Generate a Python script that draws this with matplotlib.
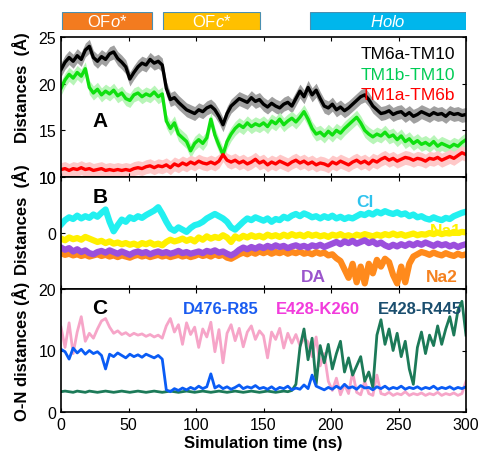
import numpy as np
import matplotlib.pyplot as plt

plt.rcParams["font.family"] = "Liberation Sans"
plt.rcParams["mathtext.fontset"] = "custom"
plt.rcParams["mathtext.rm"] = "Liberation Sans"
plt.rcParams["mathtext.it"] = "Liberation Sans:italic"

# phases shown in the bar strip on top (ns)
phaseNames = ["OF$\\it{o}$*", "OF$\\it{c}$*", "$\\it{Holo}$"]
phaseStart = [0, 75, 184]
phaseEnd = [67, 147, 300]
phaseColors = ["#F37B1F", "#FFC000", "#00B6EC"]

# panel A: helix distances (Å), one value every 3 ns from 0 to 300
tm6aTm10 = [21.5, 22.3, 22.8, 22.4, 23.0, 22.6, 23.6, 24.0, 22.8, 22.4, 22.9, 22.6, 23.2, 23.4, 22.7,
            22.3, 21.8, 20.5, 21.2, 21.8, 22.2, 22.0, 22.6, 22.2, 22.4, 22.0, 19.5, 18.3, 18.5, 18.0,
            17.6, 17.2, 17.0, 16.8, 17.2, 17.0, 17.4, 17.6, 17.2, 16.5, 15.6, 16.8, 17.6, 18.0, 18.4,
            18.2, 18.0, 18.5, 18.1, 18.3, 17.8, 17.5, 17.9, 17.6, 17.4, 17.8, 18.0, 17.6, 18.4, 19.2,
            18.6, 19.6, 18.8, 19.3, 18.4, 17.6, 17.4, 17.8, 17.2, 17.5, 17.1, 17.4, 17.8, 18.2, 18.6,
            18.8, 18.3, 17.6, 17.2, 16.8, 16.9, 17.1, 16.7, 16.9, 17.0, 16.6, 16.9, 16.5, 16.7, 17.0,
            16.8, 16.6, 16.9, 16.7, 16.8, 16.5, 16.9, 16.7, 16.8, 16.6, 16.7]
tm1bTm10 = [19.5, 20.4, 21.0, 20.6, 21.2, 20.8, 21.6, 19.6, 19.0, 19.4, 18.8, 19.2, 18.9, 19.3, 18.7,
            19.0, 18.4, 18.2, 18.8, 19.0, 18.6, 18.9, 18.7, 19.1, 18.6, 18.9, 16.0, 15.2, 15.8, 14.6,
            14.2, 13.8, 12.8, 13.6, 14.0, 13.6, 14.2, 16.2, 14.5, 13.4, 12.4, 13.8, 14.6, 15.2, 15.6,
            15.3, 15.8, 15.4, 15.7, 15.5, 15.8, 15.4, 16.0, 15.7, 16.2, 15.6, 16.0, 16.3, 15.9, 16.4,
            17.0, 16.2, 15.2, 14.6, 14.8, 14.4, 14.9, 14.5, 15.0, 14.7, 15.2, 15.6, 16.0, 16.4, 15.8,
            15.0, 14.6, 14.3, 14.6, 14.4, 14.8, 14.3, 14.5, 14.0, 14.4, 13.8, 14.1, 13.6, 13.9, 13.5,
            13.7, 13.4, 13.8, 13.3, 13.6, 13.4, 13.2, 13.5, 13.3, 13.7, 14.0]
tm1aTm6b = [10.8, 10.9, 10.7, 10.9, 10.8, 11.0, 10.8, 10.9, 10.7, 10.8, 10.9, 10.7, 10.8, 10.7, 10.8,
            10.7, 10.8, 10.7, 10.9, 11.0, 10.9, 11.1, 11.2, 11.0, 11.2, 11.1, 11.3, 11.0, 11.4, 11.2,
            11.5, 11.3, 11.6, 11.4, 11.7, 11.5, 11.4, 11.6, 11.4, 11.7, 12.4, 11.8, 11.6, 11.8, 11.5,
            11.7, 11.4, 11.6, 11.9, 11.5, 11.7, 11.3, 11.6, 11.4, 11.7, 11.5, 11.3, 11.6, 11.8, 11.5,
            11.7, 11.4, 11.6, 11.3, 11.5, 11.4, 11.2, 11.6, 11.4, 11.7, 11.5, 11.3, 11.6, 11.8, 11.5,
            11.7, 11.4, 11.8, 11.6, 11.9, 12.1, 11.8, 12.0, 11.7, 11.9, 12.1, 12.0, 11.8, 12.0, 11.9,
            11.7, 12.0, 11.9, 12.1, 11.8, 12.0, 12.2, 12.0, 12.3, 12.6, 12.4]

# panel B: ion / substrate positions (Å)
cl = [1.5, 2.3, 2.8, 2.5, 3.1, 2.6, 3.0, 2.7, 3.3, 2.9, 3.6, 4.2, 2.0, 0.3, 1.4,
      2.4, 2.0, 2.8, 2.5, 3.0, 2.7, 3.2, 3.6, 4.0, 4.6, 3.4, 2.0, 0.8, 0.4, 1.0,
      0.6, 0.2, 0.9, 1.4, 1.6, 2.0, 2.6, 3.0, 3.4, 3.0, 2.6, 2.0, 1.0, 0.6, 1.3,
      2.0, 2.6, 2.3, 2.8, 2.5, 2.2, 2.6, 2.0, 2.5, 2.3, 2.9, 2.6, 3.1, 3.4, 3.0,
      3.5, 3.2, 2.8, 3.0, 2.6, 3.0, 2.7, 3.1, 2.6, 2.9, 2.5, 2.8, 2.6, 3.0, 3.4,
      3.2, 3.6, 3.3, 3.8, 3.5, 3.9, 3.6, 3.4, 3.7, 3.3, 3.5, 3.0, 3.3, 2.8, 3.0,
      2.6, 2.4, 2.8, 2.5, 2.3, 2.7, 2.5, 3.0, 3.3, 3.6, 3.8]
na1 = [-1.0, -1.3, -0.8, -1.1, -0.9, -1.2, -0.7, -1.0, -1.3, -1.6, -1.4, -1.8, -1.5, -1.9, -1.7,
       -2.0, -1.8, -2.1, -1.9, -2.2, -1.8, -2.0, -1.7, -2.1, -1.9, -2.2, -1.6, -1.2, -1.5, -1.3,
       -1.0, -1.4, -1.1, -1.5, -0.8, -1.2, -0.6, -1.0, -0.7, -0.9, -0.4, -0.8, -1.6, -0.6, -1.0,
       -0.5, -0.8, -0.4, -0.7, -0.5, -0.8, -0.3, -0.6, -0.4, -0.7, -0.3, -0.6, -0.2, -0.5, -0.3,
       -0.6, -0.2, -0.5, -0.3, -0.6, -0.4, -0.7, -0.3, -0.5, -0.2, -0.6, -0.4, -0.7, -0.3, -0.5,
       -0.2, -0.4, -0.6, -0.3, -0.5, -0.2, -0.4, -0.1, -0.4, -0.2, -0.5, -0.3, -0.1, -0.4, -0.2,
       -0.3, 0.0, -0.2, 0.1, -0.2, 0.0, -0.1, 0.2, 0.0, 0.2, 0.1]
da = [-2.6, -3.0, -2.7, -3.3, -2.9, -3.4, -3.1, -3.6, -3.8, -3.4, -3.2, -3.5, -3.1, -3.4, -3.7,
      -3.3, -3.6, -3.9, -3.5, -3.3, -3.6, -3.4, -3.8, -3.5, -3.3, -3.6, -3.4, -3.7, -3.5, -3.2,
      -3.6, -3.4, -3.7, -3.5, -3.3, -3.6, -3.2, -3.4, -3.1, -3.5, -3.3, -3.7, -4.0, -3.6, -3.0,
      -2.6, -2.9, -2.5, -2.8, -2.4, -2.7, -2.3, -2.6, -2.2, -2.5, -2.3, -2.7, -2.4, -2.2, -2.5,
      -2.3, -2.6, -2.2, -2.4, -2.1, -2.5, -2.2, -1.9, -1.6, -2.0, -1.5, -1.8, -1.4, -1.9, -1.6,
      -1.3, -1.8, -1.5, -2.0, -1.7, -2.2, -2.5, -2.1, -2.4, -2.0, -2.3, -1.9, -2.2, -1.8, -2.1,
      -1.7, -2.0, -2.3, -1.9, -2.2, -2.0, -2.4, -2.1, -2.5, -2.2, -2.0]
na2 = [-3.6, -3.9, -3.7, -4.0, -3.8, -4.1, -3.9, -4.2, -4.0, -3.8, -4.1, -3.9, -4.2, -4.0, -4.3,
       -4.0, -4.2, -4.4, -4.1, -3.9, -4.2, -4.0, -4.3, -4.1, -3.9, -4.2, -4.0, -4.3, -4.1, -3.9,
       -4.2, -4.0, -4.3, -4.1, -3.8, -4.1, -3.9, -4.2, -3.8, -4.1, -3.9, -4.4, -4.6, -4.2, -3.8,
       -3.5, -3.8, -3.4, -3.7, -3.3, -3.6, -3.3, -3.7, -3.4, -3.6, -3.3, -3.7, -3.4, -3.6, -3.3,
       -3.7, -3.5, -3.8, -3.4, -3.7, -3.5, -4.0, -3.8, -4.5, -5.0, -6.5, -8.0, -5.5, -8.8, -6.0,
       -9.0, -5.5, -7.2, -4.8, -6.0, -4.6, -5.2, -7.5, -9.0, -6.0, -8.8, -5.5, -4.2, -3.8, -3.4,
       -3.6, -3.9, -3.5, -3.8, -4.0, -3.6, -3.9, -4.1, -3.7, -4.0, -3.8]

# panel C: salt bridge O-N distances (Å)
d476R85 = [10.2, 9.8, 8.6, 10.4, 9.6, 10.2, 9.4, 10.0, 9.5, 9.8, 9.2, 7.0, 9.4, 9.0, 9.6,
           9.2, 8.8, 9.4, 9.0, 9.3, 8.9, 9.4, 9.1, 8.8, 9.2, 8.6, 3.6, 3.3, 3.8, 3.5,
           3.9, 3.6, 4.0, 3.7, 4.2, 3.8, 4.1, 6.2, 3.9, 4.3, 3.8, 4.1, 3.7, 4.0, 4.4,
           3.8, 4.1, 3.9, 4.3, 3.8, 4.0, 3.7, 4.1, 3.6, 4.0, 3.8, 4.2, 3.6, 3.9, 3.7,
           4.4, 3.8, 6.0, 4.2, 3.9, 3.6, 4.0, 3.7, 4.2, 3.8, 4.5, 3.9, 4.1, 3.7, 4.3,
           3.9, 4.0, 3.6, 4.1, 3.8, 4.2, 3.7, 4.0, 3.8, 4.2, 3.7, 4.0, 3.8, 4.1, 3.7,
           4.0, 3.8, 4.2, 3.7, 4.0, 3.8, 4.1, 3.7, 4.0, 3.8, 4.1]
e428K260 = [13.8, 10.5, 14.5, 9.5, 13.0, 15.5, 11.5, 12.8, 12.0, 13.5, 14.8, 15.2, 13.8, 12.8, 13.2,
            12.6, 12.9, 12.4, 12.8, 12.5, 12.7, 12.3, 12.6, 12.2, 12.5, 12.0, 14.0, 15.2, 13.0, 14.2,
            11.0, 14.5, 12.6, 13.8, 10.5, 13.5, 12.2, 14.6, 9.8, 13.4, 8.0, 12.8, 14.2, 11.6, 13.6,
            10.6, 13.0, 14.0, 11.8, 13.2, 12.4, 8.8, 13.0, 11.8, 13.6, 10.4, 12.8, 11.2, 12.6, 10.8,
            12.0, 11.4, 9.0, 12.2, 7.5, 9.5, 5.0, 3.5, 5.5, 2.8, 4.5, 3.0, 6.5, 3.2, 2.8,
            5.0, 3.0, 2.7, 6.0, 3.0, 2.8, 3.2, 2.7, 3.0, 2.8, 3.3, 2.7, 3.0, 2.8, 3.1,
            2.7, 3.0, 2.8, 3.2, 2.7, 3.0, 2.8, 3.1, 2.7, 3.0, 5.0]
e428R445 = [3.3, 3.4, 3.3, 3.2, 3.4, 3.3, 3.2, 3.4, 3.3, 3.2, 3.3, 3.4, 3.3, 3.2, 3.3,
            3.4, 3.3, 3.2, 3.3, 3.4, 3.3, 3.2, 3.3, 3.4, 3.3, 3.2, 3.3, 3.4, 3.3, 3.2,
            3.3, 3.4, 3.3, 3.2, 3.3, 3.4, 3.3, 3.2, 3.3, 3.4, 3.3, 3.2, 3.3, 3.4, 3.3,
            3.2, 3.3, 3.4, 3.3, 3.2, 3.3, 3.4, 3.3, 3.2, 3.3, 3.4, 3.3, 3.5, 4.5, 10.5,
            13.5, 8.5, 12.0, 4.5, 10.8, 8.0, 11.0, 7.0, 9.5, 11.5, 6.5, 8.8, 6.0, 7.5, 9.0,
            5.0, 6.5, 4.0, 12.5, 15.0, 11.0, 13.5, 10.0, 12.8, 9.0, 11.5, 7.0, 4.5, 10.5, 13.0,
            9.5, 12.5, 10.8, 14.0, 11.0, 13.5, 15.5, 12.5, 16.5, 18.0, 12.5]


def timeAxis(values):
    return np.linspace(0, 300, len(values))


def styleAxis(ax, showX):
    ax.set_xlim(0, 300)
    ax.set_xticks(range(0, 301, 50))
    ax.tick_params(direction="in", top=True, right=True, length=3, labelsize=11.5)
    if not showX:
        ax.tick_params(labelbottom=False)
    for s in ax.spines.values():
        s.set_linewidth(1.2)


fig = plt.figure(figsize=(4.79, 4.56), dpi=100)
left, width = 61 / 479, 405 / 479

# phase strip
axTop = fig.add_axes([left, 1 - 31 / 456, width, 18 / 456])
for name, s, e, c in zip(phaseNames, phaseStart, phaseEnd, phaseColors):
    axTop.barh(0, e - s, left=s, height=1, color=c, edgecolor="#4A8FB0", linewidth=0.8)
    axTop.text((s + e) / 2, 0, name, color="white", fontsize=12, ha="center", va="center")
axTop.set_xlim(-1, 300)
axTop.set_ylim(-0.5, 0.5)
axTop.axis("off")

# panel A
axA = fig.add_axes([left, 1 - 178 / 456, width, 140 / 456])
seriesA = [(tm6aTm10, "black", "#A0A0A0"), (tm1bTm10, "#10E010", "#B8F5B8"), (tm1aTm6b, "#FF0000", "#FFC8C8")]
for vals, c, band in seriesA:
    t = timeAxis(vals)
    v = np.array(vals)
    axA.fill_between(t, v - 0.75, v + 0.75, color=band, lw=0)
for vals, c, band in seriesA:
    axA.plot(timeAxis(vals), vals, color=c, lw=2.4)
axA.set_ylim(10, 25)
axA.set_yticks([10, 15, 20, 25])
styleAxis(axA, False)
axA.text(292, 23.2, "TM6a-TM10", color="black", fontsize=12.5, ha="right", va="center")
axA.text(292, 21.0, "TM1b-TM10", color="#00CC55", fontsize=12.5, ha="right", va="center")
axA.text(292, 18.8, "TM1a-TM6b", color="#FF0000", fontsize=12.5, ha="right", va="center")
axA.text(29, 16, "A", fontsize=15, fontweight="bold", ha="center", va="center")

# panel B
axB = fig.add_axes([left, 1 - 290 / 456, width, 112 / 456])
for vals, c in [(na2, "#FF8A1C"), (cl, "#22F0F0"), (na1, "#FFF000"), (da, "#9B4FDC")]:
    axB.plot(timeAxis(vals), vals, color=c, lw=4.5)
axB.set_ylim(-10, 10)
axB.set_yticks([-10, 0, 10])
axB.set_yticklabels(["", "0", "10"])
styleAxis(axB, False)
axB.text(29, 6.6, "B", fontsize=15, fontweight="bold", ha="center", va="center")
axB.text(225, 5.6, "Cl", color="#2EC3EE", fontsize=12.5, fontweight="bold", ha="center", va="center")
axB.text(285, 0.4, "Na1", color="#FFF200", fontsize=12.5, fontweight="bold", ha="center", va="center")
axB.text(187, -7.7, "DA", color="#9B55CC", fontsize=12.5, fontweight="bold", ha="center", va="center")
axB.text(282, -7.7, "Na2", color="#F58220", fontsize=12.5, fontweight="bold", ha="center", va="center")

# panel C
axC = fig.add_axes([left, 1 - 413 / 456, width, 123 / 456])
axC.plot(timeAxis(e428K260), e428K260, color="#F6A5C8", lw=2.0)
axC.plot(timeAxis(e428R445), e428R445, color="#1C7A58", lw=2.0)
axC.plot(timeAxis(d476R85), d476R85, color="#0A5CF5", lw=2.0)
axC.set_ylim(0, 20)
axC.set_yticks([0, 10, 20])
styleAxis(axC, True)
axC.set_xlabel("Simulation time (ns)", fontsize=12, fontweight="bold", labelpad=2)
axC.text(29, 17, "C", fontsize=15, fontweight="bold", ha="center", va="center")
axC.text(118, 16.8, "D476-R85", color="#1A5CF0", fontsize=12, fontweight="bold", ha="center", va="center")
axC.text(190, 16.8, "E428-K260", color="#F23CDC", fontsize=12, fontweight="bold", ha="center", va="center")
axC.text(266, 16.8, "E428-R445", color="#1A4E6E", fontsize=12, fontweight="bold", ha="center", va="center")

# y labels overlap on purpose like in the original figure
fig.text(21 / 479, 1 - 88 / 456, "Distances  (Å)", rotation=90, fontsize=12, fontweight="bold", ha="center", va="center")
fig.text(21 / 479, 1 - 220 / 456, "Distances  (Å)", rotation=90, fontsize=12, fontweight="bold", ha="center", va="center")
fig.text(21 / 479, 1 - 351 / 456, "O-N distances (Å)", rotation=90, fontsize=12, fontweight="bold", ha="center", va="center")

fig.savefig("out.png", dpi=100)
